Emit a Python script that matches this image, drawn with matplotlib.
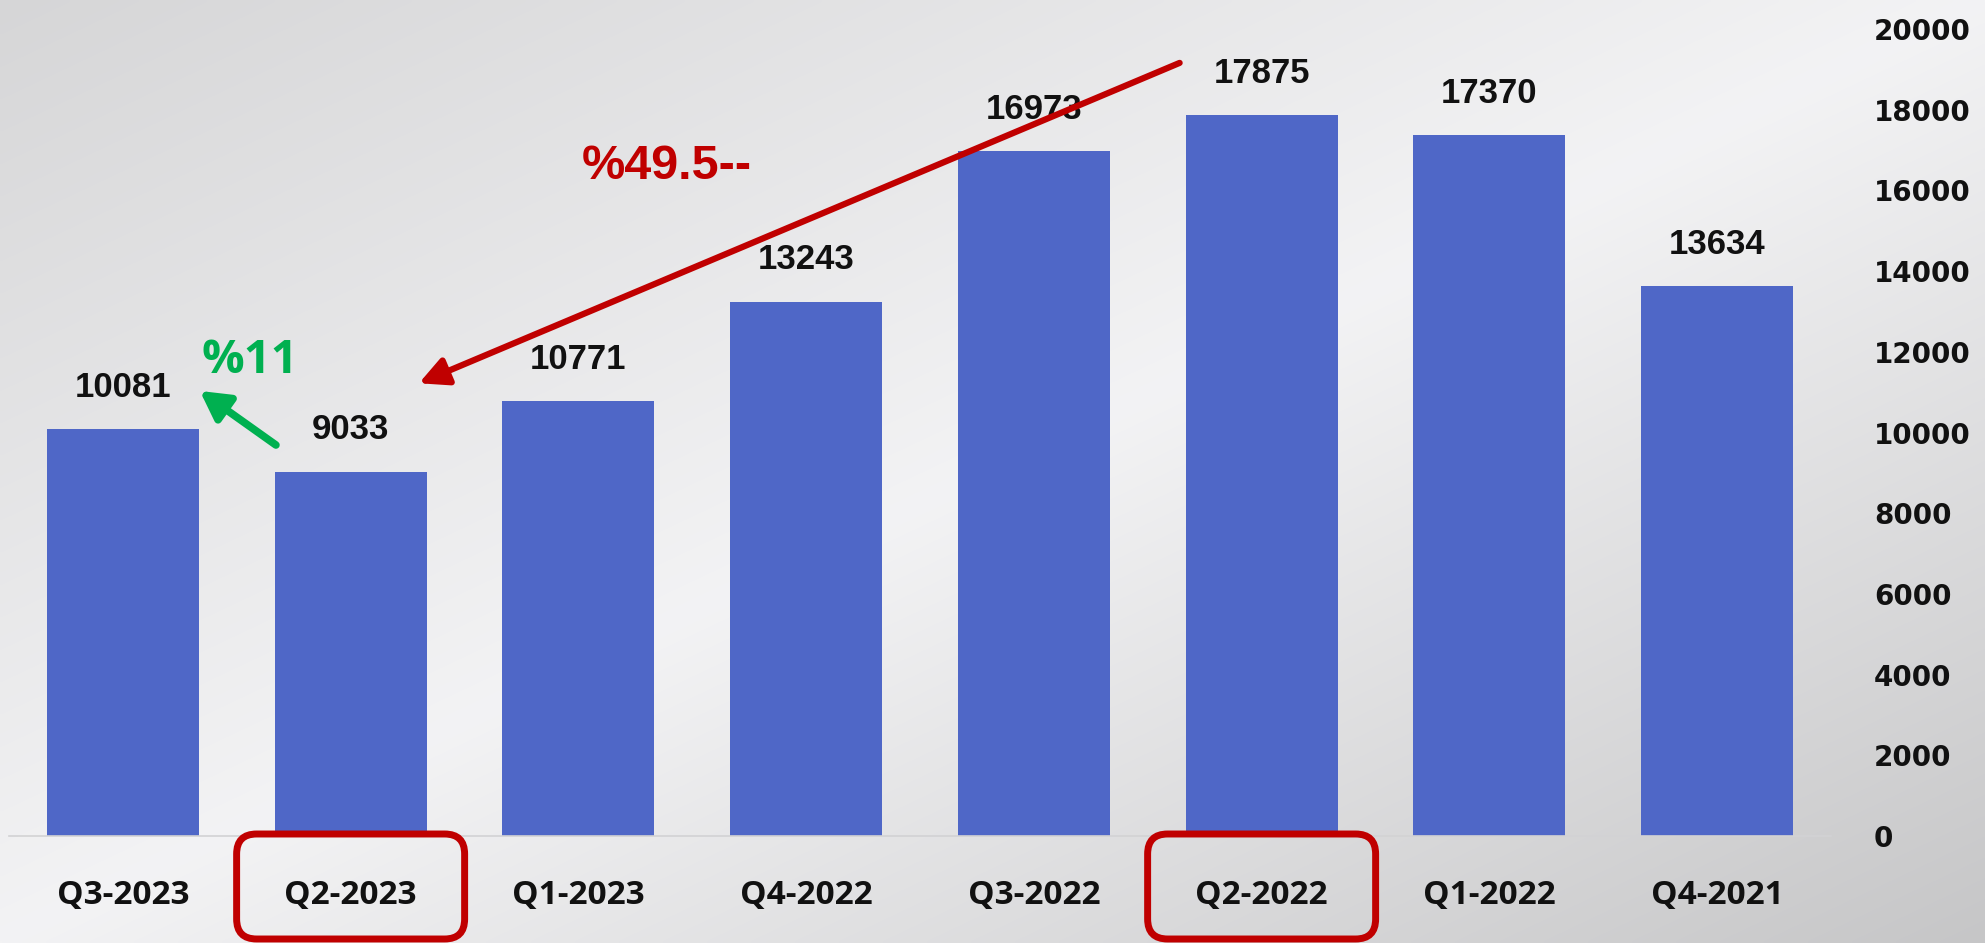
import numpy as np
import matplotlib.pyplot as plt
from matplotlib.patches import FancyBboxPatch
from matplotlib.transforms import IdentityTransform

quarters = ['Q3-2023', 'Q2-2023', 'Q1-2023', 'Q4-2022', 'Q3-2022', 'Q2-2022', 'Q1-2022', 'Q4-2021']
values = [10081, 9033, 10771, 13243, 16973, 17875, 17370, 13634]
yticks = list(range(0, 20001, 2000))
highlighted = ['Q2-2023', 'Q2-2022']
green_note = '%11'
red_note = '%49.5--'

W, H = 1985, 943
fig = plt.figure(figsize=(W / 100, H / 100), dpi=100)

# grey diagonal gradient behind everything
bg = fig.add_axes([0, 0, 1, 1], zorder=-5)
yy, xx = np.mgrid[0:1:240j, 0:1:500j]
t = (xx + yy) / 2
shade = np.interp(t, [0, 0.5, 1], [0xd6, 0xf3, 0xc6]) / 255
bg.imshow(np.dstack([shade, shade, np.clip(shade * 1.006, 0, 1)]),
          aspect='auto', interpolation='bilinear')
bg.axis('off')

ax = fig.add_axes([9 / W, 1 - 836 / H, 1822 / W, 807 / H])
ax.patch.set_alpha(0)

x = np.arange(len(quarters))
ax.bar(x, values, width=0.667, color='#4f67c7')
ax.set_xlim(-0.5, len(quarters) - 0.5)
ax.set_ylim(0, 20000)

for i, v in enumerate(values):
    ax.annotate(str(v), (i, v), xytext=(0, 30), textcoords='offset points',
                ha='center', va='center', fontsize=25, color='#111111',
                family=['Liberation Sans', 'DejaVu Sans'], weight='bold')

ax.yaxis.tick_right()
ax.set_yticks(yticks)
ax.set_yticklabels([str(v) for v in yticks], family='DejaVu Sans',
                   weight='bold', fontsize=20, color='#111111')
ax.set_xticks(x)
ax.set_xticklabels(quarters, family=['Open Sans', 'DejaVu Sans'],
                   weight='bold', fontsize=24, color='#111111')
ax.tick_params(axis='y', length=0, pad=31)
ax.tick_params(axis='x', length=0, pad=31)

for s in ['top', 'left', 'right']:
    ax.spines[s].set_visible(False)
ax.spines['bottom'].set_color('#d2d2d4')
ax.spines['bottom'].set_linewidth(1.2)

# red rounded frames round two quarter labels
for q in highlighted:
    cx = ax.transData.transform((quarters.index(q), 0))[0]
    box = FancyBboxPatch((cx - 114, H - 939), 228, 105,
                         boxstyle='round,pad=0,rounding_size=20',
                         transform=IdentityTransform(), fill=False,
                         edgecolor='#c00000', lw=5)
    fig.add_artist(box)

# arrows
ax.annotate('', xy=(1.30, 11220), xytext=(4.64, 19160),
            arrowprops=dict(arrowstyle='-|>,head_length=1.0,head_width=0.5',
                            color='#c00000', lw=4.5, mutation_scale=17,
                            shrinkA=0, shrinkB=0),
            annotation_clip=False, zorder=5)
ax.annotate('', xy=(0.338, 11030), xytext=(0.672, 9690),
            arrowprops=dict(arrowstyle='-|>,head_length=1.0,head_width=0.55',
                            color='#00b050', lw=5.5, mutation_scale=17,
                            shrinkA=0, shrinkB=0),
            annotation_clip=False, zorder=5)

ax.text(2.39, 16600, red_note, ha='center', va='center', fontsize=35,
        color='#c00000', weight='bold',
        family=['Liberation Sans', 'DejaVu Sans'])
ax.text(0.558, 11780, green_note, ha='center', va='center', fontsize=34,
        color='#00b050', weight='bold', family=['Open Sans', 'DejaVu Sans'])

fig.savefig('out.png', dpi=100)
